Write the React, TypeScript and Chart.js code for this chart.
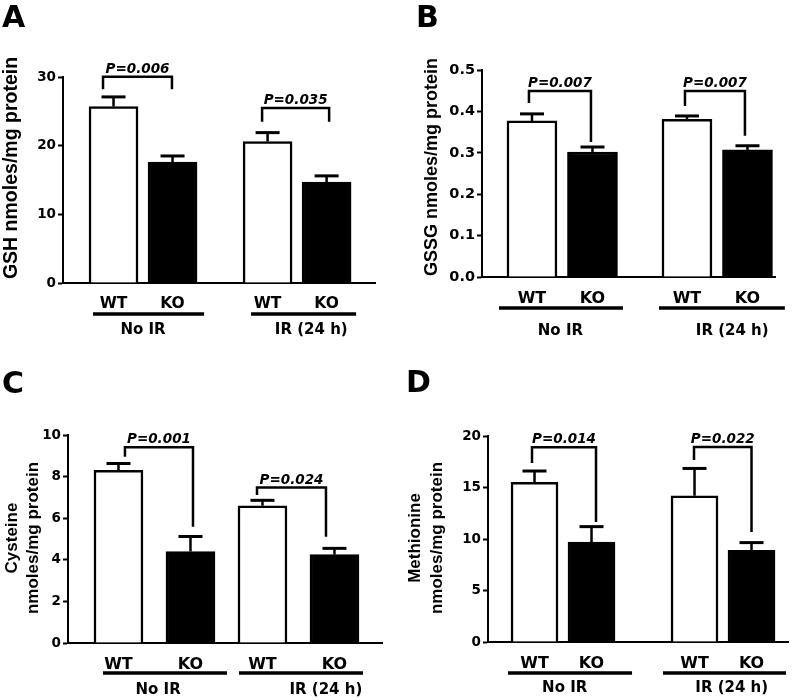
import React, { useEffect, useRef } from 'react';
import { Chart, registerables } from 'chart.js';

Chart.register(...registerables);

// ---------------- data ----------------
const genotypes = ['WT', 'KO', 'WT', 'KO'];
const groupNames = ['No IR', 'IR (24 h)'];

const gshMeans = [25.7, 17.6, 20.6, 14.7];
const gshSem = [1.4, 0.9, 1.3, 0.9];
const gshP = ['P=0.006', 'P=0.035'];
const gshBracketTop = [30.05, 25.5];
const gshLegLeft = [28.2, 23.5];
const gshLegRight = [28.2, 23.5];

const gssgMeans = [0.377, 0.302, 0.381, 0.307];
const gssgSem = [0.017, 0.012, 0.008, 0.01];
const gssgP = ['P=0.007', 'P=0.007'];
const gssgBracketTop = [0.449, 0.449];
const gssgLegLeft = [0.42, 0.413];
const gssgLegRight = [0.326, 0.341];

const cysMeans = [8.3, 4.4, 6.6, 4.25];
const cysSem = [0.33, 0.72, 0.26, 0.3];
const cysP = ['P=0.001', 'P=0.024'];
const cysBracketTop = [9.41, 7.47];
const cysLegLeft = [8.96, 7.12];
const cysLegRight = [5.59, 5.11];

const metMeans = [15.5, 9.7, 14.2, 8.9];
const metSem = [1.1, 1.5, 2.65, 0.75];
const metP = ['P=0.014', 'P=0.022'];
const metBracketTop = [18.9, 18.93];
const metLegLeft = [17.38, 17.67];
const metLegRight = [11.65, 10.68];

// ---------------- layout / style ----------------
const W = 400;
const H = 350;
const HFONT = 'DejaVu Sans';
const VFONT = 'Liberation Sans';

type Panel = {
  letter: string;
  letterPos: [number, number];
  left: number;
  top: number;
  area: { l: number; r: number; t: number; b: number };
  yMax: number;
  yStep: number;
  decimals: number;
  yTickSize: number;
  xTickSize: number;
  gap: number;
  xMin: number;
  xMax: number;
  barPx: number;
  capPx: number;
  bracketX: [number, number][];
  groupLine: [number, number][];
  groupLineY: number;
  groupLabelX: number[];
  groupLabelY: number;
  title: string[];
  titleSize: number;
  titleX: number[];
  titleY: number;
  means: number[];
  sem: number[];
  pTexts: string[];
  bracketTop: number[];
  legLeft: number[];
  legRight: number[];
};

const panels: Panel[] = [
  {
    letter: 'A', letterPos: [2, 27], left: 0, top: 0,
    area: { l: 63, r: 375, t: 77, b: 283 },
    yMax: 30, yStep: 10, decimals: 0, yTickSize: 13.5, xTickSize: 15.5,
    gap: 2.61, xMin: -0.856, xMax: 4.43, barPx: 49, capPx: 24,
    bracketX: [[-0.178, 0.99], [2.517, 3.653]],
    groupLine: [[-0.347, 1.534], [2.33, 4.11]], groupLineY: 314,
    groupLabelX: [0.5, 3.35], groupLabelY: 330,
    title: ['GSH nmoles/mg protein'], titleSize: 19.5, titleX: [12], titleY: 168,
    means: gshMeans, sem: gshSem, pTexts: gshP,
    bracketTop: gshBracketTop, legLeft: gshLegLeft, legRight: gshLegRight,
  },
  {
    letter: 'B', letterPos: [16, 27], left: 400, top: 0,
    area: { l: 82, r: 375, t: 70, b: 277 },
    yMax: 0.5, yStep: 0.1, decimals: 1, yTickSize: 14.5, xTickSize: 16,
    gap: 2.562, xMin: -0.826, xMax: 4.017, barPx: 50, capPx: 24,
    bracketX: [[-0.05, 0.975], [2.529, 3.52]],
    groupLine: [[-0.545, 1.504], [2.099, 4.18]], groupLineY: 308,
    groupLabelX: [0.47, 3.31], groupLabelY: 331,
    title: ['GSSG nmoles/mg protein'], titleSize: 18, titleX: [32], titleY: 167,
    means: gssgMeans, sem: gssgSem, pTexts: gssgP,
    bracketTop: gssgBracketTop, legLeft: gssgLegLeft, legRight: gssgLegRight,
  },
  {
    letter: 'C', letterPos: [2, 43], left: 0, top: 350,
    area: { l: 68, r: 382, t: 85, b: 293 },
    yMax: 10, yStep: 2, decimals: 0, yTickSize: 13.5, xTickSize: 16,
    gap: 2, xMin: -0.701, xMax: 3.66, barPx: 49, capPx: 24,
    bracketX: [[0.09, 1.035], [1.924, 2.882]],
    groupLine: [[-0.215, 1.507], [1.674, 3.396]], groupLineY: 323,
    groupLabelX: [0.55, 2.88], groupLabelY: 340,
    title: ['Cysteine', 'nmoles/mg protein'], titleSize: 17, titleX: [12, 33], titleY: 188,
    means: cysMeans, sem: cysSem, pTexts: cysP,
    bracketTop: cysBracketTop, legLeft: cysLegLeft, legRight: cysLegRight,
  },
  {
    letter: 'D', letterPos: [6, 42], left: 400, top: 350,
    area: { l: 88, r: 388, t: 86, b: 292 },
    yMax: 20, yStep: 5, decimals: 0, yTickSize: 13.5, xTickSize: 16,
    gap: 2.807, xMin: -0.816, xMax: 4.447, barPx: 47, capPx: 24,
    bracketX: [[-0.044, 1.079], [2.798, 3.807]],
    groupLine: [[-0.465, 1.711], [2.254, 4.412]], groupLineY: 323,
    groupLabelX: [0.53, 3.46], groupLabelY: 338,
    title: ['Methionine', 'nmoles/mg protein'], titleSize: 17, titleX: [15, 37], titleY: 188,
    means: metMeans, sem: metSem, pTexts: metP,
    bracketTop: metBracketTop, legLeft: metLegLeft, legRight: metLegRight,
  },
];

function barPositions(p: Panel): number[] {
  return [0, 1, p.gap, p.gap + 1];
}

function makeOverlay(p: Panel) {
  return {
    id: 'overlay' + p.letter,
    afterDraw(chart: any) {
      const ctx = chart.ctx as CanvasRenderingContext2D;
      const xs = chart.scales.x;
      const ys = chart.scales.y;
      const pos = barPositions(p);
      ctx.save();
      ctx.strokeStyle = '#000';
      ctx.fillStyle = '#000';
      ctx.lineCap = 'butt';

      // error bars (upper only)
      p.means.forEach((m, i) => {
        const x = xs.getPixelForValue(pos[i]);
        const y0 = ys.getPixelForValue(m);
        const y1 = ys.getPixelForValue(m + p.sem[i]);
        ctx.lineWidth = 2.5;
        ctx.beginPath();
        ctx.moveTo(x, y0);
        ctx.lineTo(x, y1);
        ctx.stroke();
        ctx.lineWidth = 3;
        ctx.beginPath();
        ctx.moveTo(x - p.capPx / 2, y1);
        ctx.lineTo(x + p.capPx / 2, y1);
        ctx.stroke();
      });

      // significance brackets
      p.pTexts.forEach((txt, i) => {
        const xl = xs.getPixelForValue(p.bracketX[i][0]);
        const xr = xs.getPixelForValue(p.bracketX[i][1]);
        const yt = ys.getPixelForValue(p.bracketTop[i]);
        const yl = ys.getPixelForValue(p.legLeft[i]);
        const yr = ys.getPixelForValue(p.legRight[i]);
        ctx.lineWidth = 2.5;
        ctx.lineJoin = 'miter';
        ctx.beginPath();
        ctx.moveTo(xl, yl);
        ctx.lineTo(xl, yt);
        ctx.lineTo(xr, yt);
        ctx.lineTo(xr, yr);
        ctx.stroke();
        ctx.font = `italic bold 13.5px "${HFONT}"`;
        ctx.textAlign = 'center';
        ctx.textBaseline = 'alphabetic';
        ctx.fillText(txt, (xl + xr) / 2, yt - 4);
      });

      // group lines and labels
      groupNames.forEach((g, i) => {
        const a = xs.getPixelForValue(p.groupLine[i][0]);
        const b = xs.getPixelForValue(p.groupLine[i][1]);
        ctx.lineWidth = 3.5;
        ctx.beginPath();
        ctx.moveTo(a, p.groupLineY);
        ctx.lineTo(b, p.groupLineY);
        ctx.stroke();
        ctx.font = `bold 15px "${HFONT}"`;
        ctx.textAlign = 'center';
        ctx.textBaseline = 'middle';
        ctx.fillText(g, xs.getPixelForValue(p.groupLabelX[i]), p.groupLabelY);
      });

      // y title
      p.title.forEach((line, i) => {
        ctx.save();
        ctx.translate(p.titleX[i], p.titleY);
        ctx.rotate(-Math.PI / 2);
        ctx.font = `bold ${p.titleSize}px "${VFONT}"`;
        ctx.textAlign = 'center';
        ctx.textBaseline = 'middle';
        ctx.fillText(line, 0, 0);
        ctx.restore();
      });

      // panel letter
      ctx.font = `bold 30px "${HFONT}"`;
      ctx.textAlign = 'left';
      ctx.textBaseline = 'alphabetic';
      ctx.fillText(p.letter, p.letterPos[0], p.letterPos[1]);
      ctx.restore();
    },
  };
}

function PanelChart({ p }: { p: Panel }) {
  const ref = useRef<HTMLCanvasElement | null>(null);
  useEffect(() => {
    if (!ref.current) return;
    const pos = barPositions(p);
    const chart = new Chart(ref.current, {
      type: 'bar',
      data: {
        datasets: [
          {
            data: p.means.map((m, i) => ({ x: pos[i], y: m })),
            backgroundColor: ['#ffffff', '#000000', '#ffffff', '#000000'],
            borderColor: '#000000',
            borderWidth: 2.5,
            barThickness: p.barPx,
            grouped: false,
          } as any,
        ],
      },
      options: {
        animation: false,
        responsive: false,
        devicePixelRatio: 1,
        layout: { padding: { left: 0, top: p.area.t, right: W - p.area.r, bottom: 0 } },
        plugins: { legend: { display: false }, tooltip: { enabled: false }, title: { display: false } },
        scales: {
          x: {
            type: 'linear',
            offset: false,
            min: p.xMin,
            max: p.xMax,
            afterBuildTicks: (s: any) => {
              s.ticks = pos.map((v) => ({ value: v }));
            },
            afterFit: (s: any) => {
              s.height = H - p.area.b;
            },
            ticks: {
              autoSkip: false,
              maxRotation: 0,
              padding: 4,
              color: '#000',
              font: { family: HFONT, weight: 'bold', size: p.xTickSize },
              callback: (_v: any, i: number) => genotypes[i],
            },
            grid: { display: false, offset: false },
            border: { display: true, width: 2, color: '#000' },
          },
          y: {
            min: 0,
            max: p.yMax,
            afterFit: (s: any) => {
              s.width = p.area.l;
            },
            ticks: {
              stepSize: p.yStep,
              padding: 2,
              color: '#000',
              font: { family: HFONT, weight: 'bold', size: p.yTickSize },
              callback: (v: any) => Number(v).toFixed(p.decimals),
            },
            grid: { display: true, drawOnChartArea: false, drawTicks: true, tickLength: 5, tickWidth: 2, color: '#000' },
            border: { display: true, width: 2, color: '#000' },
          },
        },
      } as any,
      plugins: [makeOverlay(p)],
    });
    return () => chart.destroy();
  }, [p]);
  return (
    <canvas
      ref={ref}
      width={W}
      height={H}
      style={{ position: 'absolute', left: p.left, top: p.top, width: W, height: H }}
    />
  );
}

export default function App() {
  return (
    <div style={{ position: 'absolute', left: 0, top: 0, width: 800, height: 700, background: '#fff' }}>
      {panels.map((p) => (
        <PanelChart key={p.letter} p={p} />
      ))}
    </div>
  );
}
